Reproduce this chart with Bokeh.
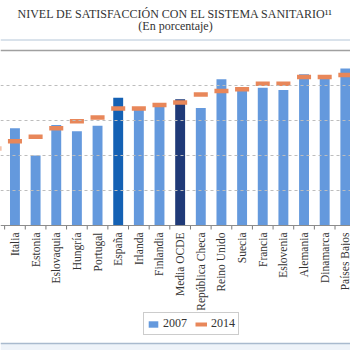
import math
from bokeh.plotting import figure
from bokeh.models import (Span, BoxAnnotation, Legend, LegendItem, Label,
                          ColumnDataSource, Range1d)
from bokeh.core.properties import value
from bokeh.embed import file_html
from bokeh.resources import INLINE

# ---- data (percent) ----
categories = ["Grecia", "Italia", "Estonia", "Eslovaquia", "Hungría", "Portugal", "España",
              "Irlanda", "Finlandia", "Media OCDE", "República Checa", "Reino Unido",
              "Suecia", "Francia", "Eslovenia", "Alemania", "Dinamarca", "Países Bajos"]
v2007 = [float("nan"), 55.6, 40.0, 57.5, 53.9, 57.0, 73.0, 66.7, 68.0, 72.2, 67.2, 83.6,
         77.1, 78.7, 77.5, 86.5, 83.8, 89.7]
v2014 = [44.0, 48.2, 50.7, 55.6, 59.6, 61.7, 66.9, 66.9, 68.8, 70.3, 74.9, 76.8,
         77.9, 81.0, 81.0, 84.8, 84.8, 86.0]
highlight = {"España": "#1461B4", "Media OCDE": "#1F3A78"}
base_color = "#6499DD"
orange = "#E8875A"
title1 = "NIVEL DE SATISFACCIÓN CON EL SISTEMA SANITARIO¹¹"
title2 = "(En porcentaje)"
grid_values = [20, 40, 60, 80]
y_max = 100

# ---- layout constants (pixels of the 350x350 frame) ----
W = H = 350
BASE_PX = 225          # pixel row of value 0
PX_PER_UNIT = 1.75     # pixels per percentage point
X0, X1 = 0.3, 17.25    # visible category span (first category is cut by the edge)

def py(px):            # pixel row -> data y
    return (BASE_PX - px) / PX_PER_UNIT

xs = list(range(len(categories)))
colors = [highlight.get(c, base_color) for c in categories]
src = ColumnDataSource(dict(x=xs, v7=v2007, v14=v2014, c=colors))

# labels only for categories whose centre lies inside the visible span
lab_x = [x for x in xs if X0 <= x <= X1]
lab_src = ColumnDataSource(dict(x=lab_x, name=[categories[x] for x in lab_x],
                                zero=[0] * len(lab_x)))

SERIF = "Liberation Serif"
TXT = "#333333"

p = figure(width=W, height=H, output_backend="svg", toolbar_location=None,
           x_range=Range1d(X0, X1), y_range=Range1d(py(H), py(0)),
           x_axis_location=None, y_axis_location=None,
           min_border_left=0, min_border_right=0, min_border_top=0, min_border_bottom=0)
p.outline_line_color = None
p.background_fill_color = "white"
p.border_fill_color = "white"
p.xgrid.visible = False
p.ygrid.visible = False

# decorative rules
p.add_layout(Span(location=py(39.5), dimension="width", line_color="#B4C6D8", line_width=1))
p.add_layout(Span(location=y_max, dimension="width", line_color="#A0A0A0", line_width=1.3))
p.add_layout(BoxAnnotation(top=py(343), fill_color="#EEF3F9", fill_alpha=1, line_alpha=0))
p.add_layout(Span(location=py(343), dimension="width", line_color="#A9BACE", line_width=1.3))

for g in grid_values:
    p.add_layout(Span(location=g, dimension="width", line_color="#BDBDBD",
                      line_width=1, line_dash="3 3"))

r7 = p.vbar(x="x", top="v7", width=0.48, fill_color="c", line_color=None, source=src)
r14 = p.rect(x="x", y="v14", width=0.68, height=4.5, height_units="screen",
             fill_color=orange, line_color=None, source=src)
leg_line = p.line(x=[float("nan")], y=[float("nan")], line_color=orange, line_width=4)

# category axis
p.add_layout(Span(location=0, dimension="width", line_color="#8C8C8C", line_width=1))
p.ray(x=[i + 0.5 for i in xs], y=[0] * len(xs), length=4, length_units="screen",
      angle=-math.pi / 2, line_color="#7A7A7A", line_width=1)
p.text(x="x", y="zero", text="name", source=lab_src, angle=math.pi / 2,
       text_align="right", text_baseline="middle", y_offset=7,
       text_font=value(SERIF), text_font_size="11.5px", text_color=TXT)

# titles
xmid = X0 + (X1 - X0) / 2
p.add_layout(Label(x=xmid, y=py(13), text=title1, text_align="center",
                   text_baseline="middle", text_font=SERIF, text_font_size="12px",
                   text_color=TXT))
p.add_layout(Label(x=xmid, y=py(25), text=title2, text_align="center",
                   text_baseline="middle", text_font=SERIF, text_font_size="12px",
                   text_color=TXT))

legend = Legend(items=[LegendItem(label="2007", renderers=[r7], index=1),
                       LegendItem(label="2014", renderers=[leg_line])],
                orientation="horizontal", location=(143, H - 335),
                border_line_color="#999999", label_text_font=SERIF,
                label_text_font_size="12px", label_text_color=TXT,
                glyph_width=12, glyph_height=8, label_height=12, padding=3,
                spacing=8, label_standoff=4, margin=0, background_fill_color="white")
p.add_layout(legend)

open("out.html", "w").write(file_html(p, INLINE))
